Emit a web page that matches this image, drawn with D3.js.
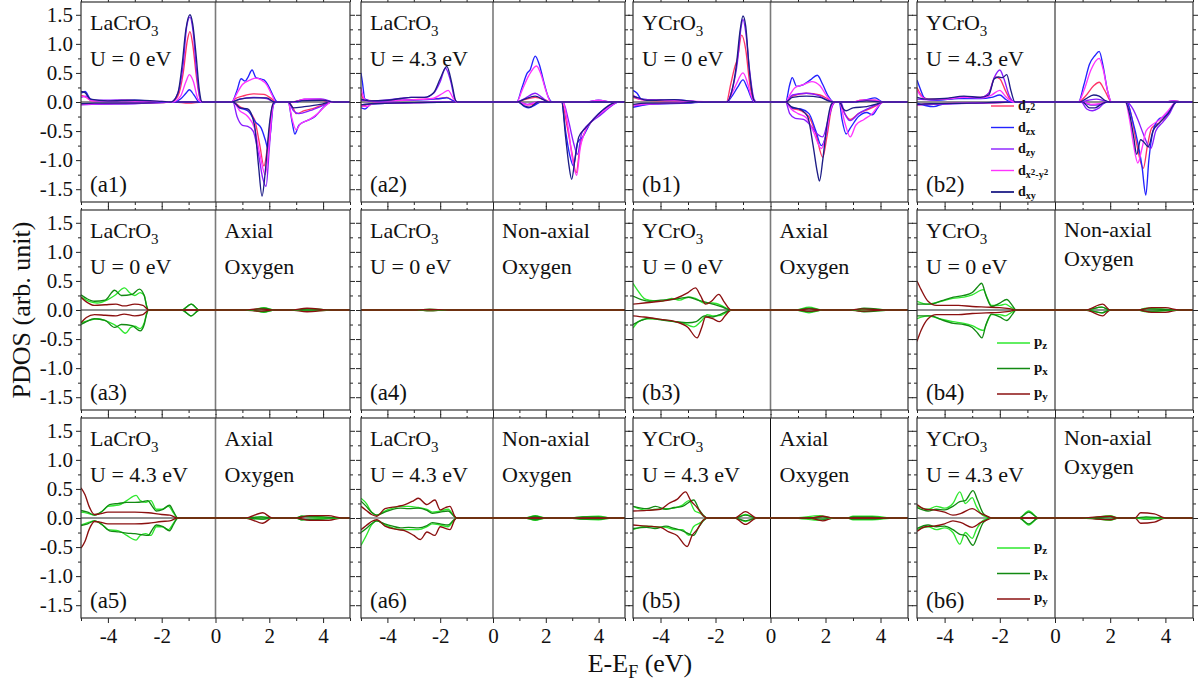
<!DOCTYPE html>
<html>
<head>
<meta charset="utf-8">
<script src="https://cdn.jsdelivr.net/npm/d3@7"></script>
<style>
  body { margin: 0; background: #fff; }
  svg, svg text { font-family: "Liberation Serif", "Times New Roman", Times, serif; }
</style>
</head>
<body>
<svg id="chart" width="1201" height="687" font-family="Liberation Serif, Times New Roman, serif"></svg>
<script>
// ---------- axes ----------
const energyTicks = [-4, -2, 0, 2, 4];
const energyMinor = [-5, -3, -1, 1, 3, 5];
const pdosTicks = [-1.5, -1, -0.5, 0, 0.5, 1, 1.5];
const pdosMinor = [-1.25, -0.75, -0.25, 0.25, 0.75, 1.25];

// ---------- orbitals ----------
const dOrbitals = ["dz2", "dzx", "dzy", "dx2-y2", "dxy"];
const pOrbitals = ["pz", "px", "py"];

// ---------- Cr-3d PDOS, [E - EF (eV), PDOS] ; order dz2, dzx, dzy, dx2-y2, dxy ----------
const a1Up = [
  [[-5,0.12],[-4.8,0.08],[-4.6,0.02],[-4,0.02],[-3.3,0.03],[-2.5,0.01],[-1.65,0],[-1.4,0.1],[-1.2,0.5],[-1.05,1.05],[-0.95,1.21],[-0.85,1.0],[-0.7,0.4],[-0.55,0.02],[-0.45,0],[0.6,0],[0.75,0.06],[1.0,0.1],[1.4,0.14],[1.8,0.13],[2.1,0.05],[2.25,0],[2.8,0],[3.2,0.03],[3.8,0.04],[4.3,0],[5,0]],
  [[-5,0.15],[-4.85,0.18],[-4.65,0.05],[-4.4,0.02],[-3,0.03],[-2,0],[-1.55,0],[-1.3,0.05],[-1.1,0.15],[-0.97,0.21],[-0.8,0.12],[-0.6,0],[0.6,0],[0.8,0.2],[0.95,0.4],[1.1,0.36],[1.2,0.42],[1.36,0.55],[1.5,0.42],[1.65,0.4],[1.8,0.38],[2.0,0.25],[2.15,0.1],[2.3,0],[3.0,0],[3.3,0.04],[3.9,0.05],[4.3,0],[5,0]],
  [[-5,0.08],[-4.8,0.1],[-4.6,0.03],[-3.5,0.03],[-2.5,0.01],[-1.65,0],[-1.4,0.15],[-1.2,0.65],[-1.07,1.3],[-0.95,1.46],[-0.83,1.2],[-0.7,0.5],[-0.55,0.02],[-0.45,0],[0.6,0],[0.9,0.05],[1.4,0.08],[1.9,0.06],[2.2,0],[2.9,0],[3.3,0.05],[4.0,0.05],[4.4,0],[5,0]],
  [[-5,0.1],[-4.8,0.08],[-4.6,0.02],[-3.5,0.02],[-2,0.01],[-1.6,0],[-1.3,0.1],[-1.1,0.35],[-0.97,0.47],[-0.82,0.35],[-0.65,0.05],[-0.5,0],[0.6,0],[0.8,0.15],[1.0,0.3],[1.3,0.38],[1.5,0.41],[1.7,0.38],[1.9,0.3],[2.1,0.12],[2.25,0],[2.9,0],[3.3,0.05],[3.9,0.05],[4.3,0],[5,0]],
  [[-5,0.18],[-4.85,0.16],[-4.65,0.05],[-4,0.02],[-3,0.03],[-2,0.01],[-1.65,0],[-1.4,0.15],[-1.25,0.6],[-1.1,1.25],[-0.95,1.5],[-0.85,1.35],[-0.72,0.8],[-0.6,0.2],[-0.5,0],[0.6,0],[0.9,0.05],[1.4,0.07],[1.9,0.07],[2.2,0],[2.8,0],[3.2,0.02],[4.0,0.03],[4.4,0],[5,0]]
];
const a1Down = [
  [[-5,-0.03],[-4.5,-0.03],[-3,-0.02],[-2,-0.01],[-1.5,0],[-1,-0.02],[-0.5,0],[0.65,0],[0.9,-0.08],[1.2,-0.15],[1.45,-0.3],[1.65,-0.75],[1.8,-1.1],[1.95,-0.7],[2.1,-0.1],[2.2,0],[2.7,0],[2.9,-0.12],[3.0,-0.2],[3.3,-0.15],[3.7,-0.1],[4.1,-0.03],[4.3,0],[5,0]],
  [[-5,-0.04],[-4.6,-0.03],[-3,-0.02],[-1.5,0],[0.65,0],[0.9,-0.1],[1.2,-0.15],[1.5,-0.35],[1.7,-0.45],[1.85,-0.65],[1.95,-0.8],[2.05,-0.5],[2.15,-0.05],[2.25,0],[2.7,0],[2.85,-0.35],[2.95,-0.55],[3.1,-0.4],[3.4,-0.32],[3.7,-0.25],[4.0,-0.1],[4.3,0],[5,0]],
  [[-5,-0.05],[-4.6,-0.04],[-3,-0.03],[-1.5,0],[0.65,0],[0.8,-0.25],[1.0,-0.4],[1.2,-0.42],[1.4,-0.5],[1.6,-0.9],[1.75,-1.3],[1.88,-1.45],[2.0,-0.8],[2.12,-0.1],[2.2,0],[2.7,0],[2.9,-0.15],[3.1,-0.2],[3.5,-0.15],[4.0,-0.06],[4.3,0],[5,0]],
  [[-5,-0.04],[-4.6,-0.03],[-3,-0.02],[-1.5,0],[0.65,0],[0.9,-0.15],[1.2,-0.25],[1.45,-0.45],[1.65,-0.9],[1.85,-1.25],[2.0,-0.7],[2.12,-0.1],[2.2,0],[2.7,0],[2.85,-0.3],[3.0,-0.48],[3.15,-0.38],[3.5,-0.3],[3.8,-0.2],[4.1,-0.06],[4.3,0],[5,0]],
  [[-5,-0.03],[-4.5,-0.02],[-3,-0.02],[-1.5,0],[0.65,0],[0.9,-0.1],[1.2,-0.12],[1.45,-0.4],[1.6,-1.1],[1.73,-1.62],[1.85,-1.2],[2.0,-0.4],[2.12,-0.05],[2.2,0],[2.7,0],[2.9,-0.1],[3.3,-0.08],[3.9,-0.04],[4.3,0],[5,0]]
];
const a2Up = [
  [[-5,0.15],[-4.9,0.05],[-4.5,0.02],[-3.5,0.03],[-2.5,0.05],[-2.0,0.06],[-1.75,0.08],[-1.5,0.02],[-1.35,0],[0.9,0],[1.2,0.04],[1.6,0.08],[2.0,0.03],[2.2,0],[3.5,0],[4.0,0.02],[4.5,0],[5,0]],
  [[-5,0.5],[-4.95,0.35],[-4.85,0.05],[-4.5,0.01],[-3.5,0.03],[-2.5,0.04],[-2.0,0.06],[-1.75,0.07],[-1.5,0.02],[-1.35,0],[0.9,0],[1.1,0.25],[1.3,0.5],[1.4,0.55],[1.6,0.79],[1.75,0.65],[1.95,0.3],[2.1,0.08],[2.25,0],[3.5,0],[4.0,0.03],[4.5,0],[5,0]],
  [[-5,0.03],[-4.5,0.02],[-3.5,0.06],[-3.1,0.08],[-2.6,0.08],[-2.25,0.15],[-2.0,0.35],[-1.8,0.58],[-1.6,0.35],[-1.45,0.05],[-1.35,0],[0.9,0],[1.2,0.06],[1.6,0.15],[1.85,0.08],[2.1,0],[5,0]],
  [[-5,0.25],[-4.95,0.15],[-4.8,0.02],[-4,0.02],[-3,0.04],[-2.3,0.06],[-1.9,0.15],[-1.7,0.2],[-1.5,0.06],[-1.35,0],[0.9,0],[1.1,0.2],[1.35,0.45],[1.65,0.62],[1.8,0.5],[2.0,0.2],[2.2,0],[3.5,0],[4.0,0.03],[4.5,0],[5,0]],
  [[-5,0.05],[-4.7,0.02],[-4,0.03],[-3.5,0.06],[-3.1,0.08],[-2.6,0.08],[-2.25,0.16],[-2.0,0.4],[-1.75,0.61],[-1.55,0.3],[-1.42,0.03],[-1.35,0],[0.9,0],[1.2,0.05],[1.6,0.1],[1.9,0.04],[2.1,0],[5,0]]
];
const a2Down = [
  [[-5,-0.08],[-4.8,-0.05],[-4.5,-0.02],[-3,-0.01],[-1.4,0],[0.95,0],[1.3,-0.05],[1.6,-0.03],[1.8,0],[2.6,0],[2.8,-0.4],[3.0,-0.9],[3.15,-1.22],[3.3,-0.75],[3.5,-0.5],[3.8,-0.3],[4.2,-0.15],[4.7,0],[5,0]],
  [[-5,-0.1],[-4.85,-0.12],[-4.6,-0.03],[-3,-0.01],[-1.4,0],[0.95,0],[1.2,-0.08],[1.35,-0.1],[1.6,-0.05],[1.8,0],[2.6,0],[2.75,-0.5],[2.9,-0.9],[3.05,-1.1],[3.2,-0.7],[3.4,-0.6],[3.7,-0.35],[4.0,-0.2],[4.4,-0.08],[4.75,0],[5,0]],
  [[-5,-0.05],[-4.6,-0.03],[-3,-0.01],[-1.4,0],[0.95,0],[1.3,-0.04],[1.7,0],[2.65,0],[2.85,-0.3],[3.05,-0.7],[3.2,-0.9],[3.35,-0.55],[3.48,-0.45],[3.7,-0.35],[4.0,-0.25],[4.4,-0.1],[4.75,0],[5,0]],
  [[-5,-0.06],[-4.8,-0.08],[-4.5,-0.02],[-3,-0.01],[-1.4,0],[0.95,0],[1.3,-0.05],[1.7,0],[2.65,0],[2.85,-0.45],[3.0,-0.95],[3.17,-1.26],[3.3,-0.8],[3.45,-0.55],[3.8,-0.3],[4.2,-0.15],[4.75,0],[5,0]],
  [[-5,-0.05],[-4.6,-0.03],[-3,-0.01],[-1.4,0],[0.95,0],[1.2,-0.07],[1.4,-0.09],[1.7,0],[2.6,0],[2.75,-0.6],[2.88,-1.1],[2.98,-1.33],[3.1,-1.0],[3.25,-0.6],[3.5,-0.45],[3.8,-0.3],[4.2,-0.12],[4.7,0],[5,0]]
];
const b1Up = [
  [[-5,0.08],[-4.7,0.04],[-4,0.02],[-3.2,0.02],[-2.5,0],[-1.6,0],[-1.45,0.3],[-1.3,0.6],[-1.2,0.75],[-1.05,1.15],[-0.9,0.9],[-0.75,0.3],[-0.6,0.02],[-0.5,0],[0.55,0],[0.8,0.1],[1.3,0.15],[1.8,0.12],[2.1,0.05],[2.3,0],[3.0,0],[3.3,0.03],[3.8,0.03],[4.1,0],[5,0]],
  [[-5,0.2],[-4.85,0.15],[-4.7,0.05],[-4,0.03],[-3.5,0.04],[-3,0.02],[-2.6,0],[-1.6,0],[-1.4,0.1],[-1.2,0.25],[-1.0,0.38],[-0.85,0.25],[-0.65,0.03],[-0.55,0],[0.55,0],[0.7,0.3],[0.79,0.42],[0.95,0.27],[1.2,0.3],[1.45,0.38],[1.7,0.46],[1.9,0.3],[2.1,0.1],[2.3,0],[3.0,0],[3.5,0.04],[3.8,0.07],[4.1,0],[5,0]],
  [[-5,0.1],[-4.7,0.05],[-4,0.03],[-3,0.02],[-2.5,0],[-1.6,0],[-1.4,0.2],[-1.2,0.7],[-1.08,1.25],[-1.0,1.42],[-0.9,1.2],[-0.75,0.5],[-0.6,0.05],[-0.5,0],[0.55,0],[0.8,0.12],[1.3,0.15],[1.7,0.12],[2.0,0.05],[2.3,0],[3.0,0],[3.5,0.03],[4.1,0],[5,0]],
  [[-5,0.12],[-4.8,0.06],[-4.5,0.03],[-3.5,0.03],[-2.7,0.01],[-1.6,0],[-1.4,0.15],[-1.25,0.3],[-1.0,0.5],[-0.85,0.35],[-0.7,0.1],[-0.55,0],[0.55,0],[0.7,0.12],[0.9,0.25],[1.2,0.3],[1.5,0.35],[1.8,0.28],[2.05,0.1],[2.3,0],[3.0,0],[3.3,0.03],[3.8,0.03],[4.1,0],[5,0]],
  [[-5,0.1],[-4.8,0.07],[-4.5,0.03],[-3.5,0.04],[-3.0,0.02],[-2.5,0],[-1.6,0],[-1.4,0.2],[-1.25,0.6],[-1.1,1.25],[-1.0,1.48],[-0.9,1.3],[-0.78,0.6],[-0.62,0.05],[-0.55,0],[0.55,0],[0.8,0.08],[1.3,0.1],[1.8,0.08],[2.1,0.02],[2.3,0],[3.0,0],[3.5,0.02],[4.1,0],[5,0]]
];
const b1Down = [
  [[-5,-0.05],[-4.5,-0.03],[-3.5,-0.02],[-2.5,0],[0.55,0],[0.75,-0.1],[1.1,-0.15],[1.4,-0.25],[1.65,-0.55],[1.9,-0.95],[2.05,-0.6],[2.25,-0.05],[2.35,0],[2.5,0],[2.7,-0.2],[2.9,-0.3],[3.2,-0.2],[3.6,-0.12],[3.9,-0.05],[4.1,0],[5,0]],
  [[-5,-0.09],[-4.7,-0.06],[-4.2,-0.03],[-3,-0.02],[-2.5,0],[0.55,0],[0.75,-0.1],[1.1,-0.12],[1.4,-0.2],[1.65,-0.5],[1.85,-0.75],[2.0,-0.6],[2.2,-0.1],[2.35,0],[2.5,0],[2.6,-0.3],[2.75,-0.55],[2.9,-0.45],[3.2,-0.25],[3.5,-0.18],[3.7,-0.22],[3.9,-0.1],[4.06,0],[5,0]],
  [[-5,-0.07],[-4.5,-0.04],[-3.5,-0.02],[-2.5,0],[0.55,0],[0.7,-0.2],[0.9,-0.28],[1.2,-0.3],[1.45,-0.4],[1.7,-0.55],[1.9,-0.6],[2.1,-0.3],[2.3,-0.02],[2.35,0],[2.55,0],[2.7,-0.2],[2.9,-0.32],[3.2,-0.2],[3.6,-0.1],[4.0,-0.02],[4.1,0],[5,0]],
  [[-5,-0.06],[-4.5,-0.03],[-3.5,-0.02],[-2.5,0],[0.55,0],[0.75,-0.12],[1.0,-0.2],[1.3,-0.27],[1.55,-0.5],[1.85,-0.8],[2.0,-0.6],[2.2,-0.1],[2.35,0],[2.5,0],[2.7,-0.35],[2.9,-0.6],[3.1,-0.4],[3.4,-0.3],[3.7,-0.2],[3.95,-0.05],[4.1,0],[5,0]],
  [[-5,-0.04],[-4.5,-0.02],[-3.5,-0.02],[-2.5,0],[0.55,0],[0.75,-0.08],[1.1,-0.13],[1.35,-0.25],[1.55,-0.75],[1.7,-1.2],[1.78,-1.36],[1.9,-1.0],[2.05,-0.4],[2.2,-0.05],[2.3,0],[2.5,0],[2.65,-0.12],[2.75,-0.15],[3.0,-0.1],[3.5,-0.08],[3.9,-0.03],[4.1,0],[5,0]]
];
const b2Up = [
  [[-5,0.25],[-4.85,0.12],[-4.6,0.05],[-4,0.05],[-3.3,0.08],[-2.7,0.08],[-2.4,0.15],[-2.17,0.43],[-2.0,0.4],[-1.8,0.2],[-1.6,0.03],[-1.45,0],[0.85,0],[1.1,0.1],[1.4,0.28],[1.6,0.34],[1.8,0.2],[2.05,0],[4.0,0],[4.3,0.02],[4.6,0],[5,0]],
  [[-5,0.38],[-4.9,0.25],[-4.7,0.05],[-4.3,0.03],[-3.5,0.06],[-2.7,0.06],[-2.3,0.08],[-2.0,0.12],[-1.8,0.05],[-1.6,0],[0.85,0],[1.05,0.3],[1.25,0.65],[1.45,0.8],[1.6,0.87],[1.75,0.6],[1.9,0.2],[2.05,0],[4.0,0],[4.3,0.02],[4.6,0],[5,0]],
  [[-5,0.05],[-4.5,0.04],[-4,0.05],[-3.3,0.09],[-2.7,0.08],[-2.4,0.15],[-2.2,0.42],[-2.0,0.55],[-1.85,0.4],[-1.65,0.1],[-1.45,0],[0.9,0],[1.2,0.03],[1.5,0.05],[1.8,0.02],[2.0,0],[5,0]],
  [[-5,0.2],[-4.85,0.1],[-4.6,0.04],[-4,0.05],[-3.3,0.08],[-2.7,0.07],[-2.3,0.12],[-2.0,0.2],[-1.8,0.1],[-1.6,0.02],[-1.5,0],[0.85,0],[1.05,0.2],[1.3,0.55],[1.6,0.75],[1.75,0.55],[1.9,0.2],[2.05,0],[4.0,0],[4.3,0.02],[4.6,0],[5,0]],
  [[-5,0.08],[-4.7,0.05],[-4,0.06],[-3.3,0.1],[-2.7,0.08],[-2.4,0.12],[-2.2,0.4],[-2.05,0.43],[-1.9,0.42],[-1.75,0.47],[-1.6,0.2],[-1.45,0],[0.9,0],[1.1,0.05],[1.4,0.12],[1.6,0.1],[1.8,0.03],[2.0,0],[5,0]]
];
const b2Down = [
  [[-5,-0.05],[-4.5,-0.03],[-3,-0.02],[-2,-0.01],[-1.5,0],[1.0,0],[1.3,-0.05],[1.6,-0.04],[1.9,0],[2.6,0],[2.75,-0.2],[2.95,-0.7],[3.2,-1.14],[3.35,-0.75],[3.5,-0.45],[3.8,-0.35],[4.1,-0.2],[4.4,0],[5,0]],
  [[-5,-0.02],[-4.7,-0.06],[-4.4,-0.08],[-4.0,-0.03],[-3,-0.02],[-1.5,0],[1.0,0],[1.3,-0.05],[1.6,-0.05],[1.9,0],[2.6,0],[2.8,-0.3],[3.0,-0.7],[3.15,-1.1],[3.29,-1.6],[3.4,-1.0],[3.55,-0.5],[3.75,-0.3],[3.95,-0.25],[4.2,-0.12],[4.4,0],[5,0]],
  [[-5,-0.05],[-4.5,-0.04],[-3,-0.02],[-1.5,0],[0.95,0],[1.15,-0.12],[1.35,-0.15],[1.6,-0.1],[1.85,0],[2.6,0],[2.8,-0.1],[3.0,-0.3],[3.2,-0.55],[3.47,-0.8],[3.65,-0.5],[3.9,-0.35],[4.15,-0.2],[4.4,0],[5,0]],
  [[-5,-0.05],[-4.5,-0.03],[-3,-0.02],[-1.5,0],[1.0,0],[1.3,-0.04],[1.6,-0.03],[1.9,0],[2.55,0],[2.7,-0.3],[2.85,-0.75],[3.0,-1.05],[3.15,-0.8],[3.3,-0.5],[3.5,-0.4],[3.8,-0.3],[4.1,-0.15],[4.4,0],[5,0]],
  [[-5,-0.04],[-4.5,-0.03],[-3,-0.02],[-1.5,0],[1.0,0],[1.25,-0.1],[1.45,-0.1],[1.7,-0.03],[1.9,0],[2.55,0],[2.7,-0.2],[2.85,-0.6],[2.96,-0.9],[3.1,-0.65],[3.2,-0.68],[3.38,-0.77],[3.55,-0.5],[3.8,-0.35],[4.1,-0.2],[4.4,0],[5,0]]
];

// ---------- O-2p PDOS, [E - EF (eV), PDOS] ; order pz, px, py ----------
const a3Up = [
  [[-5,0.22],[-4.7,0.15],[-4.4,0.12],[-4.0,0.18],[-3.75,0.25],[-3.38,0.38],[-3.2,0.3],[-3.0,0.25],[-2.8,0.3],[-2.65,0.25],[-2.55,0.05],[-2.5,0],[-1.25,0],[-0.9,0.1],[-0.6,0],[1.3,0],[1.8,0.04],[2.2,0],[2.9,0],[3.5,0.02],[4.3,0],[5,0]],
  [[-5,0.26],[-4.8,0.2],[-4.5,0.15],[-4.1,0.17],[-3.75,0.34],[-3.5,0.25],[-3.1,0.27],[-2.83,0.36],[-2.65,0.25],[-2.55,0.05],[-2.5,0],[-1.25,0],[-0.9,0.1],[-0.6,0],[1.3,0],[1.8,0.03],[2.2,0],[2.9,0],[3.5,0.02],[4.3,0],[5,0]],
  [[-5,0.22],[-4.8,0.14],[-4.5,0.08],[-4.1,0.09],[-3.7,0.1],[-3.4,0.07],[-3.0,0.1],[-2.7,0.08],[-2.55,0.02],[-2.5,0],[1.1,0],[1.6,0.02],[2.2,0],[2.8,0],[3.4,0.03],[4.3,0],[5,0]]
];
const a3Down = [
  [[-5,-0.22],[-4.7,-0.18],[-4.4,-0.15],[-4.0,-0.2],[-3.6,-0.3],[-3.35,-0.4],[-3.15,-0.3],[-3.0,-0.28],[-2.8,-0.32],[-2.65,-0.22],[-2.55,-0.05],[-2.5,0],[-1.25,0],[-0.9,-0.1],[-0.6,0],[1.3,0],[1.8,-0.04],[2.2,0],[2.9,0],[3.5,-0.02],[4.3,0],[5,0]],
  [[-5,-0.25],[-4.8,-0.2],[-4.5,-0.15],[-4.1,-0.18],[-3.75,-0.3],[-3.5,-0.25],[-3.1,-0.27],[-2.8,-0.36],[-2.65,-0.25],[-2.55,-0.05],[-2.5,0],[-1.25,0],[-0.9,-0.1],[-0.6,0],[1.3,0],[1.8,-0.03],[2.2,0],[5,0]],
  [[-5,-0.22],[-4.8,-0.13],[-4.5,-0.08],[-4.1,-0.09],[-3.7,-0.1],[-3.4,-0.07],[-3.0,-0.1],[-2.7,-0.08],[-2.55,-0.02],[-2.5,0],[1.1,0],[1.6,-0.02],[2.2,0],[2.8,0],[3.4,-0.03],[4.3,0],[5,0]]
];
const a4Up = [
  [[-5,0],[-2.9,0],[-2.4,0.008],[-1.8,0],[5,0]],
  [[-5,0],[-2.9,0],[-2.4,0.01],[-1.8,0],[5,0]],
  [[-5,0],[-2.9,0],[-2.4,0.012],[-1.7,0],[5,0]]
];
const a4Down = [
  [[-5,0],[-2.9,0],[-2.4,-0.008],[-1.8,0],[5,0]],
  [[-5,0],[-2.9,0],[-2.4,-0.01],[-1.8,0],[5,0]],
  [[-5,0],[-2.9,0],[-2.4,-0.012],[-1.7,0],[5,0]]
];
const b3Up = [
  [[-5,0.46],[-4.85,0.35],[-4.6,0.2],[-4.42,0.17],[-4.0,0.15],[-3.6,0.2],[-3.3,0.17],[-3.0,0.22],[-2.73,0.2],[-2.4,0.12],[-2.1,0.12],[-1.8,0.08],[-1.6,0.03],[-1.42,0],[0.9,0],[1.4,0.05],[1.9,0],[3.0,0],[3.5,0.02],[4.4,0],[5,0]],
  [[-5,0.24],[-4.7,0.18],[-4.4,0.15],[-4.0,0.17],[-3.6,0.18],[-3.3,0.2],[-2.97,0.22],[-2.7,0.18],[-2.4,0.14],[-2.1,0.1],[-1.8,0.06],[-1.42,0],[0.9,0],[1.4,0.03],[1.9,0],[3.0,0],[3.4,0.03],[4.4,0],[5,0]],
  [[-5,0.1],[-4.6,0.12],[-4.0,0.15],[-3.45,0.2],[-3.0,0.3],[-2.73,0.38],[-2.55,0.25],[-2.36,0.1],[-2.15,0.15],[-1.88,0.27],[-1.7,0.15],[-1.5,0.02],[-1.42,0],[1.0,0],[1.4,0.02],[1.9,0],[2.9,0],[3.3,0.02],[4.2,0],[5,0]]
];
const b3Down = [
  [[-5,-0.31],[-4.8,-0.2],[-4.5,-0.15],[-4.0,-0.16],[-3.5,-0.2],[-3.2,-0.22],[-2.8,-0.29],[-2.5,-0.18],[-2.3,-0.08],[-2.1,-0.1],[-1.8,-0.09],[-1.6,-0.04],[-1.42,0],[0.9,0],[1.4,-0.05],[1.9,0],[3.0,0],[3.5,-0.02],[4.4,0],[5,0]],
  [[-5,-0.25],[-4.7,-0.18],[-4.4,-0.14],[-4.0,-0.17],[-3.5,-0.2],[-3.0,-0.22],[-2.7,-0.2],[-2.4,-0.1],[-2.1,-0.12],[-1.8,-0.07],[-1.42,0],[0.9,0],[1.4,-0.03],[1.9,0],[3.0,0],[3.4,-0.03],[4.4,0],[5,0]],
  [[-5,-0.1],[-4.6,-0.12],[-4.0,-0.16],[-3.45,-0.2],[-3.0,-0.3],[-2.67,-0.48],[-2.5,-0.3],[-2.36,-0.12],[-2.1,-0.15],[-1.85,-0.2],[-1.65,-0.1],[-1.5,-0.02],[-1.42,0],[1.0,0],[1.4,-0.02],[1.9,0],[2.9,0],[3.3,-0.02],[4.2,0],[5,0]]
];
const b4Up = [
  [[-5,0.15],[-4.6,0.1],[-4.2,0.14],[-3.7,0.2],[-3.3,0.22],[-3.0,0.26],[-2.6,0.35],[-2.45,0.2],[-2.3,0.08],[-2.0,0.08],[-1.8,0.1],[-1.6,0.05],[-1.41,0],[1.1,0],[1.7,0.05],[2.0,0],[3.0,0],[3.3,0.03],[4.0,0.01],[4.5,0],[5,0]],
  [[-5,0.1],[-4.5,0.1],[-4.1,0.16],[-3.68,0.22],[-3.3,0.25],[-3.0,0.3],[-2.8,0.4],[-2.66,0.46],[-2.5,0.25],[-2.3,0.06],[-2.0,0.12],[-1.75,0.18],[-1.55,0.08],[-1.41,0],[1.1,0],[1.7,0.05],[2.0,0],[3.0,0],[3.3,0.02],[4.0,0.01],[4.5,0],[5,0]],
  [[-5,0.5],[-4.85,0.35],[-4.6,0.15],[-4.3,0.08],[-3.5,0.08],[-3.0,0.06],[-2.5,0.05],[-2.0,0.04],[-1.6,0.02],[-1.45,0],[1.1,0],[1.73,0.1],[2.0,0],[3.0,0],[3.5,0.04],[4.0,0.04],[4.5,0],[5,0]]
];
const b4Down = [
  [[-5,-0.15],[-4.6,-0.1],[-4.2,-0.15],[-3.7,-0.2],[-3.3,-0.23],[-3.0,-0.27],[-2.6,-0.35],[-2.45,-0.2],[-2.3,-0.08],[-2.0,-0.08],[-1.8,-0.1],[-1.6,-0.05],[-1.41,0],[1.1,0],[1.7,-0.05],[2.0,0],[3.0,0],[3.3,-0.03],[4.5,0],[5,0]],
  [[-5,-0.1],[-4.5,-0.1],[-4.1,-0.17],[-3.68,-0.23],[-3.3,-0.25],[-3.0,-0.3],[-2.8,-0.4],[-2.65,-0.48],[-2.5,-0.25],[-2.3,-0.07],[-2.0,-0.12],[-1.75,-0.18],[-1.55,-0.08],[-1.41,0],[1.1,0],[1.7,-0.05],[2.0,0],[3.0,0],[3.3,-0.02],[4.5,0],[5,0]],
  [[-5,-0.54],[-4.85,-0.35],[-4.6,-0.15],[-4.3,-0.08],[-3.5,-0.08],[-3.0,-0.06],[-2.5,-0.05],[-2.0,-0.04],[-1.6,-0.02],[-1.45,0],[1.1,0],[1.73,-0.1],[2.0,0],[3.0,0],[3.5,-0.04],[4.0,-0.04],[4.5,0],[5,0]]
];
const a5Up = [
  [[-5,0.1],[-4.75,0.08],[-4.5,0.05],[-4.2,0.12],[-4.0,0.2],[-3.6,0.22],[-3.3,0.3],[-2.95,0.39],[-2.8,0.3],[-2.6,0.27],[-2.4,0.3],[-2.2,0.15],[-2.0,0.15],[-1.75,0.2],[-1.55,0.08],[-1.4,0],[1.1,0],[1.7,0.02],[2.1,0],[3.0,0],[3.2,0.03],[3.6,0.02],[4.6,0],[5,0]],
  [[-5,0.13],[-4.75,0.1],[-4.5,0.05],[-4.2,0.12],[-3.94,0.23],[-3.6,0.25],[-3.3,0.27],[-3.0,0.27],[-2.7,0.28],[-2.52,0.3],[-2.35,0.2],[-2.2,0.12],[-1.95,0.15],[-1.71,0.22],[-1.55,0.1],[-1.4,0],[1.1,0],[1.7,0.02],[2.1,0],[3.0,0],[3.2,0.03],[4.0,0.02],[4.6,0],[5,0]],
  [[-5,0.52],[-4.85,0.4],[-4.7,0.2],[-4.5,0.06],[-4.3,0.07],[-4.0,0.1],[-3.5,0.1],[-3.0,0.1],[-2.5,0.09],[-2.0,0.06],[-1.7,0.05],[-1.5,0.01],[-1.46,0],[1.1,0],[1.76,0.09],[2.1,0],[3.0,0],[3.5,0.04],[4.2,0.04],[4.7,0],[5,0]]
];
const a5Down = [
  [[-5,-0.12],[-4.75,-0.08],[-4.5,-0.05],[-4.2,-0.12],[-4.0,-0.2],[-3.6,-0.22],[-3.3,-0.3],[-2.95,-0.38],[-2.8,-0.3],[-2.6,-0.27],[-2.4,-0.3],[-2.2,-0.15],[-2.0,-0.15],[-1.75,-0.2],[-1.55,-0.08],[-1.4,0],[1.1,0],[1.7,-0.02],[2.1,0],[3.0,0],[3.2,-0.03],[3.6,-0.02],[4.6,0],[5,0]],
  [[-5,-0.13],[-4.75,-0.1],[-4.5,-0.05],[-4.2,-0.12],[-3.94,-0.22],[-3.6,-0.24],[-3.3,-0.26],[-3.0,-0.27],[-2.7,-0.29],[-2.5,-0.3],[-2.35,-0.2],[-2.2,-0.12],[-1.95,-0.15],[-1.71,-0.22],[-1.55,-0.1],[-1.4,0],[1.1,0],[1.7,-0.02],[2.1,0],[3.0,0],[3.2,-0.03],[4.0,-0.02],[4.6,0],[5,0]],
  [[-5,-0.52],[-4.85,-0.4],[-4.7,-0.2],[-4.5,-0.06],[-4.3,-0.07],[-4.0,-0.1],[-3.5,-0.1],[-3.0,-0.1],[-2.5,-0.09],[-2.0,-0.06],[-1.7,-0.05],[-1.5,-0.01],[-1.46,0],[1.1,0],[1.76,-0.09],[2.1,0],[3.0,0],[3.5,-0.04],[4.2,-0.04],[4.7,0],[5,0]]
];
const a6Up = [
  [[-5,0.34],[-4.8,0.25],[-4.6,0.1],[-4.4,0.05],[-4.1,0.12],[-3.8,0.17],[-3.5,0.2],[-3.2,0.2],[-2.83,0.18],[-2.5,0.15],[-2.3,0.1],[-2.0,0.12],[-1.7,0.15],[-1.5,0.05],[-1.38,0],[1.2,0],[1.6,0.04],[2.0,0],[2.9,0],[3.4,0.02],[4.0,0.03],[4.5,0],[5,0]],
  [[-5,0.29],[-4.8,0.2],[-4.6,0.1],[-4.4,0.05],[-4.1,0.1],[-3.8,0.15],[-3.5,0.17],[-3.2,0.16],[-2.83,0.17],[-2.5,0.13],[-2.3,0.08],[-2.0,0.1],[-1.7,0.12],[-1.5,0.04],[-1.38,0],[1.2,0],[1.6,0.03],[2.0,0],[2.9,0],[3.4,0.02],[4.0,0.02],[4.5,0],[5,0]],
  [[-5,0.2],[-4.8,0.13],[-4.6,0.06],[-4.4,0.03],[-4.09,0.16],[-3.6,0.2],[-3.33,0.23],[-3.0,0.3],[-2.83,0.34],[-2.5,0.23],[-2.2,0.31],[-2.0,0.14],[-1.8,0.18],[-1.63,0.2],[-1.45,0.03],[-1.38,0],[5,0]]
];
const a6Down = [
  [[-5,-0.47],[-4.8,-0.3],[-4.6,-0.12],[-4.4,-0.05],[-4.1,-0.12],[-3.8,-0.17],[-3.5,-0.2],[-3.2,-0.2],[-2.83,-0.2],[-2.5,-0.15],[-2.3,-0.1],[-2.0,-0.12],[-1.7,-0.15],[-1.5,-0.05],[-1.38,0],[1.2,0],[1.6,-0.04],[2.0,0],[2.9,0],[3.4,-0.02],[4.0,-0.03],[4.5,0],[5,0]],
  [[-5,-0.25],[-4.8,-0.18],[-4.6,-0.1],[-4.4,-0.05],[-4.1,-0.1],[-3.8,-0.14],[-3.5,-0.17],[-3.2,-0.16],[-2.83,-0.17],[-2.5,-0.13],[-2.3,-0.08],[-2.0,-0.1],[-1.7,-0.12],[-1.5,-0.04],[-1.38,0],[1.2,0],[1.6,-0.03],[2.0,0],[2.9,0],[3.4,-0.02],[4.0,-0.02],[4.5,0],[5,0]],
  [[-5,-0.2],[-4.8,-0.13],[-4.6,-0.06],[-4.4,-0.03],[-4.09,-0.14],[-3.6,-0.2],[-3.33,-0.22],[-3.0,-0.3],[-2.75,-0.37],[-2.5,-0.24],[-2.2,-0.3],[-2.0,-0.15],[-1.8,-0.18],[-1.63,-0.2],[-1.45,-0.03],[-1.38,0],[5,0]]
];
const b5Up = [
  [[-5,0.2],[-4.5,0.13],[-4.2,0.15],[-3.8,0.16],[-3.5,0.17],[-3.2,0.22],[-2.97,0.3],[-2.75,0.12],[-2.55,0.08],[-2.4,0.02],[-2.3,0],[-1.3,0],[-0.91,0.06],[-0.5,0],[0.8,0],[1.8,0.04],[2.2,0],[2.8,0],[3.0,0.03],[3.7,0.03],[4.5,0],[5,0]],
  [[-5,0.2],[-4.5,0.16],[-4.18,0.2],[-3.8,0.15],[-3.5,0.18],[-3.2,0.2],[-2.79,0.31],[-2.6,0.15],[-2.4,0.03],[-2.3,0],[-1.3,0],[-0.91,0.05],[-0.5,0],[1.4,0],[1.9,0.02],[2.3,0],[2.8,0],[3.0,0.02],[3.7,0.02],[4.2,0],[5,0]],
  [[-5,0.12],[-4.5,0.13],[-4.0,0.15],[-3.7,0.25],[-3.4,0.32],[-3.09,0.45],[-2.9,0.3],[-2.67,0.18],[-2.45,0.04],[-2.3,0],[-1.3,0],[-0.91,0.11],[-0.5,0],[1.4,0],[1.9,0.03],[2.3,0],[5,0]]
];
const b5Down = [
  [[-5,-0.2],[-4.5,-0.14],[-4.2,-0.15],[-3.8,-0.16],[-3.5,-0.2],[-3.2,-0.2],[-2.97,-0.3],[-2.8,-0.15],[-2.55,-0.08],[-2.4,-0.02],[-2.3,0],[-1.3,0],[-0.91,-0.06],[-0.5,0],[0.8,0],[1.8,-0.04],[2.2,0],[2.8,0],[3.0,-0.03],[3.7,-0.03],[4.5,0],[5,0]],
  [[-5,-0.18],[-4.5,-0.16],[-4.2,-0.18],[-3.8,-0.14],[-3.5,-0.18],[-3.2,-0.22],[-2.8,-0.3],[-2.6,-0.15],[-2.4,-0.03],[-2.3,0],[-1.3,0],[-0.91,-0.05],[-0.5,0],[1.4,0],[1.9,-0.02],[2.3,0],[2.8,0],[3.0,-0.02],[3.7,-0.02],[4.2,0],[5,0]],
  [[-5,-0.12],[-4.5,-0.14],[-4.0,-0.16],[-3.7,-0.24],[-3.4,-0.3],[-3.03,-0.49],[-2.85,-0.3],[-2.67,-0.2],[-2.45,-0.04],[-2.3,0],[-1.3,0],[-0.91,-0.11],[-0.5,0],[1.4,0],[1.9,-0.05],[2.3,0],[5,0]]
];
const b6Up = [
  [[-5,0.2],[-4.6,0.15],[-4.3,0.2],[-4.0,0.17],[-3.7,0.25],[-3.45,0.45],[-3.25,0.25],[-3.0,0.35],[-2.85,0.2],[-2.6,0.04],[-2.3,0],[-1.3,0],[-0.95,0.12],[-0.6,0],[1.2,0],[2.0,0.04],[2.3,0],[5,0]],
  [[-5,0.18],[-4.6,0.12],[-4.3,0.15],[-4.0,0.14],[-3.7,0.2],[-3.45,0.28],[-3.25,0.3],[-2.97,0.47],[-2.8,0.3],[-2.6,0.08],[-2.3,0],[-1.3,0],[-0.95,0.1],[-0.6,0],[1.2,0],[2.0,0.02],[2.3,0],[2.9,0],[3.3,0.02],[4.0,0],[5,0]],
  [[-5,0.23],[-4.7,0.15],[-4.4,0.14],[-4.0,0.1],[-3.7,0.05],[-3.4,0.08],[-3.0,0.16],[-2.7,0.08],[-2.4,0.02],[-2.3,0],[1.0,0],[1.5,0.02],[2.0,0.03],[2.3,0],[2.9,0],[3.1,0.09],[3.6,0.07],[4.0,0],[5,0]]
];
const b6Down = [
  [[-5,-0.2],[-4.6,-0.15],[-4.3,-0.2],[-4.0,-0.17],[-3.7,-0.25],[-3.45,-0.45],[-3.25,-0.25],[-3.0,-0.35],[-2.85,-0.2],[-2.6,-0.04],[-2.3,0],[-1.3,0],[-0.95,-0.12],[-0.6,0],[1.2,0],[2.0,-0.04],[2.3,0],[5,0]],
  [[-5,-0.18],[-4.6,-0.12],[-4.3,-0.15],[-4.0,-0.14],[-3.7,-0.2],[-3.45,-0.28],[-3.25,-0.3],[-2.97,-0.47],[-2.8,-0.3],[-2.6,-0.08],[-2.3,0],[-1.3,0],[-0.95,-0.1],[-0.6,0],[1.2,0],[2.0,-0.02],[2.3,0],[2.9,0],[3.3,-0.02],[4.0,0],[5,0]],
  [[-5,-0.23],[-4.7,-0.15],[-4.4,-0.14],[-4.0,-0.1],[-3.7,-0.05],[-3.4,-0.08],[-3.0,-0.16],[-2.7,-0.08],[-2.4,-0.02],[-2.3,0],[1.0,0],[1.5,-0.02],[2.0,-0.03],[2.3,0],[2.9,0],[3.1,-0.09],[3.6,-0.07],[4.0,0],[5,0]]
];

// ---------- styling ----------
const serif = "Liberation Serif, Times New Roman, Times, serif";
const dColors = ["#ff3366", "#2323ff", "#8a1cff", "#ff33ff", "#1d1d86"];
const pColors = ["#2ee82e", "#138a13", "#8b1010"];

// ---------- panel layout ----------
const colLeft = [81, 361, 633, 917];
const colRight = [350, 625, 908, 1193];
const rowTop = [2, 210, 418];
const panelH = 200;

const panels = [
  { tag: "(a1)", row: 0, col: 0, host: "LaCrO", u: "U = 0 eV",   orb: "d", up: a1Up, down: a1Down, zeroGray: true },
  { tag: "(a2)", row: 0, col: 1, host: "LaCrO", u: "U = 4.3 eV", orb: "d", up: a2Up, down: a2Down, zeroGray: true },
  { tag: "(b1)", row: 0, col: 2, host: "YCrO",  u: "U = 0 eV",   orb: "d", up: b1Up, down: b1Down, zeroGray: true },
  { tag: "(b2)", row: 0, col: 3, host: "YCrO",  u: "U = 4.3 eV", orb: "d", up: b2Up, down: b2Down, zeroGray: false, legend: true },
  { tag: "(a3)", row: 1, col: 0, host: "LaCrO", u: "U = 0 eV",   orb: "p", up: a3Up, down: a3Down, zeroGray: true,  site: ["Axial", "Oxygen"] },
  { tag: "(a4)", row: 1, col: 1, host: "LaCrO", u: "U = 0 eV",   orb: "p", up: a4Up, down: a4Down, zeroGray: false, site: ["Non-axial", "Oxygen"] },
  { tag: "(b3)", row: 1, col: 2, host: "YCrO",  u: "U = 0 eV",   orb: "p", up: b3Up, down: b3Down, zeroGray: true,  site: ["Axial", "Oxygen"] },
  { tag: "(b4)", row: 1, col: 3, host: "YCrO",  u: "U = 0 eV",   orb: "p", up: b4Up, down: b4Down, zeroGray: false, site: ["Non-axial", "Oxygen"], tight: true, legend: true },
  { tag: "(a5)", row: 2, col: 0, host: "LaCrO", u: "U = 4.3 eV", orb: "p", up: a5Up, down: a5Down, zeroGray: true,  site: ["Axial", "Oxygen"] },
  { tag: "(a6)", row: 2, col: 1, host: "LaCrO", u: "U = 4.3 eV", orb: "p", up: a6Up, down: a6Down, zeroGray: true,  site: ["Non-axial", "Oxygen"], baseGray: true },
  { tag: "(b5)", row: 2, col: 2, host: "YCrO",  u: "U = 4.3 eV", orb: "p", up: b5Up, down: b5Down, zeroGray: false, site: ["Axial", "Oxygen"], baseGray: true },
  { tag: "(b6)", row: 2, col: 3, host: "YCrO",  u: "U = 4.3 eV", orb: "p", up: b6Up, down: b6Down, zeroGray: false, site: ["Non-axial", "Oxygen"], tight: true, legend: true, baseGray: true }
];

const svg = d3.select("#chart");
const fmtY = d => d.toFixed(1);
const fmtX = d => String(d);

// serif text helper
const txt = (sel, size) => sel.append("text")
  .style("font-family", serif).attr("font-size", size).attr("fill", "#111");

panels.forEach((p, i) => {
  const x0 = colLeft[p.col], w = colRight[p.col] - x0, y0 = rowTop[p.row];
  const x = d3.scaleLinear().domain([-5, 5]).range([0, w]);
  const y = d3.scaleLinear().domain([-1.72, 1.72]).range([panelH, 0]);
  const g = svg.append("g").attr("transform", `translate(${x0},${y0})`);

  g.append("clipPath").attr("id", "clip" + i)
    .append("rect").attr("width", w).attr("height", panelH);

  const plot = g.append("g").attr("clip-path", `url(#clip${i})`);

  // Fermi level and zero baseline
  plot.append("line")
    .attr("x1", x(0)).attr("x2", x(0)).attr("y1", 0).attr("y2", panelH)
    .attr("stroke", p.zeroGray ? "#7a7a7a" : "#111")
    .attr("stroke-width", p.zeroGray ? 1.6 : 1);
  plot.append("line")
    .attr("x1", 0).attr("x2", w).attr("y1", y(0)).attr("y2", y(0))
    .attr("stroke", p.baseGray ? "#808080" : "#222").attr("stroke-width", p.baseGray ? 1.4 : 1);

  // spin-up and spin-down PDOS curves
  const colors = p.orb === "d" ? dColors : pColors;
  const line = d3.line().x(d => x(d[0])).y(d => y(d[1])).curve(d3.curveMonotoneX);
  [p.down, p.up].forEach(set => {
    set.forEach((series, k) => {
      plot.append("path").datum(series)
        .attr("d", line)
        .attr("fill", "none")
        .attr("stroke", colors[k])
        .attr("stroke-width", 1.35)
        .attr("stroke-linejoin", "round");
    });
  });

  // axes (outward ticks on all sides)
  const tickStyle = sel => {
    sel.attr("font-family", null);
    sel.select(".domain").remove();
    sel.selectAll("line").attr("stroke", "#222");
    sel.selectAll("text").style("font-family", serif).attr("font-size", 21).attr("fill", "#111");
  };
  g.append("g").call(d3.axisLeft(y).tickValues(pdosTicks).tickSize(5).tickPadding(3)
    .tickFormat(p.col === 0 ? fmtY : () => "")).call(tickStyle);
  g.append("g").call(d3.axisLeft(y).tickValues(pdosMinor).tickSize(3).tickFormat(() => "")).call(tickStyle);
  g.append("g").attr("transform", `translate(${w},0)`)
    .call(d3.axisRight(y).tickValues(pdosTicks).tickSize(5).tickFormat(() => "")).call(tickStyle);
  g.append("g").attr("transform", `translate(${w},0)`)
    .call(d3.axisRight(y).tickValues(pdosMinor).tickSize(3).tickFormat(() => "")).call(tickStyle);

  g.append("g").call(d3.axisTop(x).tickValues(energyTicks).tickSize(4).tickFormat(() => "")).call(tickStyle);
  g.append("g").call(d3.axisTop(x).tickValues(energyMinor).tickSize(2).tickFormat(() => "")).call(tickStyle);
  g.append("g").attr("transform", `translate(0,${panelH})`)
    .call(d3.axisBottom(x).tickValues(energyTicks).tickSize(5).tickPadding(5)
      .tickFormat(p.row === 2 ? fmtX : () => "")).call(tickStyle);
  g.append("g").attr("transform", `translate(0,${panelH})`)
    .call(d3.axisBottom(x).tickValues(energyMinor).tickSize(3).tickFormat(() => "")).call(tickStyle);

  // frame
  g.append("rect").attr("width", w).attr("height", panelH)
    .attr("fill", "none").attr("stroke", "#333").attr("stroke-width", 1.2);

  // annotations
  const hostText = txt(g, 22).attr("x", 9).attr("y", 28);
  hostText.append("tspan").text(p.host);
  hostText.append("tspan").attr("font-size", 15).attr("dy", 6).text("3");
  txt(g, 22).attr("x", 9).attr("y", 64).text(p.u);
  txt(g, 23).attr("x", 9).attr("y", 190).text(p.tag);

  if (p.site) {
    txt(g, 22).attr("x", x(0) + 9).attr("y", p.tight ? 27 : 28).text(p.site[0]);
    txt(g, 22).attr("x", x(0) + 9).attr("y", p.tight ? 56 : 64).text(p.site[1]);
  }

  // legends
  if (p.legend && p.orb === "d") {
    const subs = [["z", "2"], ["zx", ""], ["zy", ""], ["x2-y2", ""], ["xy", ""]];
    dOrbitals.forEach((name, k) => {
      const ly = 104 + k * 21.5;
      g.append("line").attr("x1", 74).attr("x2", 97).attr("y1", ly).attr("y2", ly)
        .attr("stroke", dColors[k]).attr("stroke-width", k === 4 ? 1.8 : 1.4);
      const t = txt(g, 14).attr("x", 101).attr("y", ly + 4).attr("font-weight", "bold");
      t.append("tspan").text("d");
      if (k === 3) {
        t.append("tspan").attr("font-size", 10).attr("dy", 3).text("x");
        t.append("tspan").attr("font-size", 9).attr("dy", -3).text("2");
        t.append("tspan").attr("font-size", 10).attr("dy", 3).text("-y");
        t.append("tspan").attr("font-size", 9).attr("dy", -3).text("2");
      } else {
        t.append("tspan").attr("font-size", 10).attr("dy", 3).text(subs[k][0]);
        if (subs[k][1]) t.append("tspan").attr("font-size", 10).attr("dy", -3).text(subs[k][1]);
      }
    });
  }
  if (p.legend && p.orb === "p") {
    const start = p.row === 1 ? 133 : 130;
    pOrbitals.forEach((name, k) => {
      const ly = start + k * 25.5;
      g.append("line").attr("x1", 80).attr("x2", 113).attr("y1", ly).attr("y2", ly)
        .attr("stroke", pColors[k]).attr("stroke-width", 1.4);
      const t = txt(g, 15).attr("x", 117).attr("y", ly + 3).attr("font-weight", "bold");
      t.append("tspan").text("p");
      t.append("tspan").attr("font-size", 11).attr("dy", 3).text(name.slice(1));
    });
  }
});

// axis titles
txt(svg, 26)
  .attr("transform", "translate(30,310) rotate(-90)")
  .attr("text-anchor", "middle")
  .text("PDOS (arb. unit)");
const xt = txt(svg, 26).attr("x", 640).attr("y", 672).attr("text-anchor", "middle");
xt.append("tspan").text("E-E");
xt.append("tspan").attr("font-size", 18).attr("dy", 6).text("F");
xt.append("tspan").attr("dy", -6).text(" (eV)");
</script>
</body>
</html>
